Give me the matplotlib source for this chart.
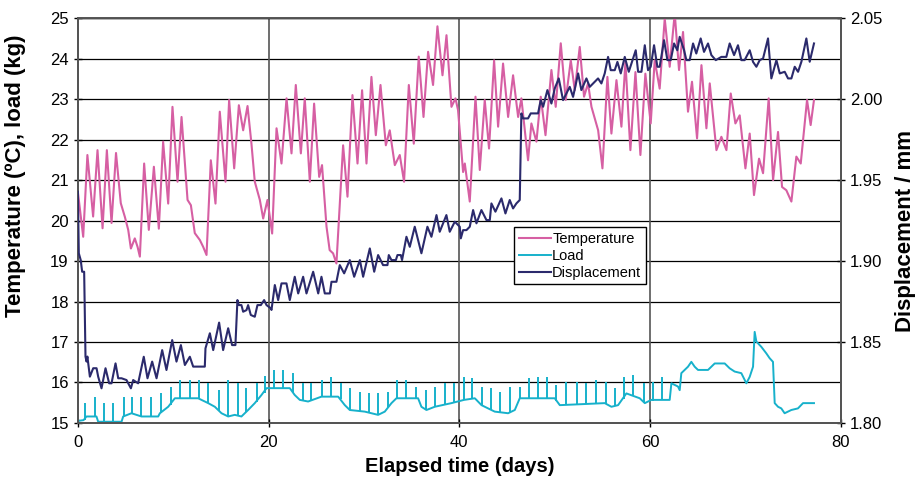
import matplotlib
matplotlib.use('Agg')
import matplotlib.pyplot as plt

plt.rcParams['font.family'] = ['Liberation Sans', 'DejaVu Sans']

# Temperature (ºC) against elapsed time (days)
temp_days = [0.0, 0.56, 1.0, 1.6, 2.06, 2.59, 3.04, 3.53, 4.0, 4.5, 4.93, 5.28, 5.56, 5.97, 6.26, 6.5,
             6.95, 7.44, 7.97, 8.49, 8.94, 9.47, 9.92, 10.45, 10.87, 11.5, 11.85, 12.26, 12.79, 13.14,
             13.49, 13.94, 14.43, 14.88, 15.48, 15.86, 16.39, 16.88, 17.33, 17.79, 18.2, 18.55, 19.08,
             19.43, 19.88, 20.37, 20.83, 21.35, 21.88, 22.4, 22.85, 23.38, 23.79, 24.32, 24.77, 25.3,
             25.6, 26.07, 26.4, 26.76, 27.11, 27.81, 28.27, 28.79, 29.32, 29.8, 30.26, 30.78, 31.24,
             31.73, 32.29, 32.7, 33.23, 33.75, 34.2, 34.7, 35.22, 35.74, 36.24, 36.72, 37.24, 37.7,
             38.23, 38.65, 39.17, 39.59, 39.86, 40.39, 40.57, 41.09, 41.69, 42.14, 42.66, 43.11, 43.64,
             44.06, 44.58, 45.11, 45.63, 46.16, 46.5, 47.2, 47.55, 48.08, 48.53, 49.03, 49.65, 50.1,
             50.63, 51.15, 51.68, 52.1, 52.62, 53.07, 53.49, 53.85, 54.55, 55.0, 55.52, 55.94, 56.47,
             56.99, 57.41, 57.93, 58.46, 58.98, 59.5, 60.06, 60.48, 61.0, 61.53, 62.05, 62.58, 63.03,
             63.45, 63.97, 64.39, 64.92, 65.38, 65.9, 66.25, 66.95, 67.47, 68.0, 68.45, 68.94, 69.39,
             69.99, 70.44, 70.89, 71.42, 71.84, 72.43, 72.89, 73.41, 73.83, 74.28, 74.81, 75.33,
             75.79, 76.45, 76.83, 77.18]
temperature = [20.71, 19.6, 21.62, 20.1, 21.74, 19.81, 21.74, 19.94, 21.67, 20.43, 20.09, 19.77, 19.31,
               19.56, 19.35, 19.11, 21.41, 19.77, 21.33, 19.8, 21.95, 20.42, 22.81, 20.96, 22.56, 20.51,
               20.38, 19.69, 19.52, 19.35, 19.15, 21.49, 20.42, 22.69, 20.96, 22.98, 21.29, 22.85, 22.23,
               22.83, 21.9, 20.96, 20.51, 20.05, 20.51, 19.68, 22.28, 21.41, 23.02, 21.66, 23.35, 21.66,
               23.02, 20.96, 22.89, 21.08, 21.37, 19.85, 19.27, 19.19, 18.94, 21.86, 20.59, 23.1, 21.41,
               23.22, 21.41, 23.55, 22.11, 23.35, 21.86, 22.23, 21.37, 21.62, 20.96, 23.35, 21.9, 24.05,
               22.56, 24.17, 23.35, 24.8, 23.59, 24.58, 22.81, 23.02, 22.73, 21.2, 21.41, 20.47, 23.06,
               21.25, 22.98, 21.78, 23.96, 22.32, 23.88, 22.56, 23.59, 22.56, 23.02, 21.49, 22.4, 21.95,
               23.06, 22.11, 23.72, 22.81, 24.38, 22.98, 23.96, 23.22, 24.29, 23.06, 23.39, 22.81, 22.23,
               21.29, 23.55, 22.15, 23.47, 22.32, 23.92, 21.74, 23.67, 21.62, 23.63, 22.4, 23.96, 23.26,
               24.99, 23.8, 25.12, 23.72, 24.66, 22.69, 23.43, 22.03, 23.84, 22.28, 23.39, 21.74, 22.07,
               21.74, 23.14, 22.4, 22.6, 21.29, 22.15, 20.63, 21.53, 21.17, 23.02, 21.0, 22.19, 20.83,
               20.75, 20.47, 21.58, 21.41, 22.98, 22.36, 22.98]

# Load (kg): slowly varying base level ...
load_days = [0.0, 0.6, 0.9, 1.95, 2.13, 2.7, 2.76, 2.82, 4.58, 4.75, 5.62, 6.67, 8.42, 8.6, 9.47, 10.17,
             12.61, 13.66, 14.36, 15.06, 15.76, 16.45, 17.15, 17.85, 18.55, 19.25, 19.78, 20.3, 22.22,
             22.74, 23.27, 24.14, 25.54, 27.29, 27.99, 28.51, 30.08, 31.48, 32.18, 32.88, 33.4, 35.67,
             36.02, 36.55, 37.42, 39.17, 40.49, 41.62, 42.32, 43.01, 43.71, 45.11, 45.81, 46.33, 50.0,
             50.53, 55.24, 55.94, 56.64, 57.51, 58.91, 59.44, 60.13, 62.05, 62.23, 62.92, 63.1, 63.27,
             63.97, 64.32, 64.67, 65.02, 66.07, 66.77, 67.82, 68.34, 68.86, 69.56, 70.09, 70.44, 70.79,
             70.96, 71.14, 71.66, 72.18, 72.53, 72.88, 73.06, 73.41, 73.75, 74.1, 74.8, 75.5, 76.03, 77.18]
load_base = [15.05, 15.07, 15.16, 15.16, 15.03, 15.03, 14.87, 15.03, 15.03, 15.16, 15.24, 15.16, 15.16,
             15.24, 15.4, 15.61, 15.61, 15.49, 15.4, 15.24, 15.16, 15.2, 15.16, 15.32, 15.49, 15.69,
             15.86, 15.86, 15.86, 15.69, 15.57, 15.53, 15.65, 15.65, 15.44, 15.32, 15.28, 15.2, 15.28,
             15.49, 15.61, 15.61, 15.4, 15.32, 15.4, 15.49, 15.57, 15.61, 15.44, 15.36, 15.28, 15.24,
             15.32, 15.61, 15.61, 15.44, 15.49, 15.4, 15.44, 15.73, 15.61, 15.49, 15.57, 15.57, 15.98,
             15.9, 15.81, 16.23, 16.39, 16.51, 16.39, 16.31, 16.31, 16.47, 16.47, 16.35, 16.27, 16.23,
             15.98, 16.14, 16.39, 17.25, 17.01, 16.88, 16.72, 16.6, 16.51, 15.49, 15.4, 15.36, 15.24,
             15.32, 15.36, 15.49, 15.49]

# ... plus the short daily load peaks
spike_days = [0.73, 1.78, 2.76, 3.7, 4.86, 5.7, 6.67, 7.72, 8.7, 9.75, 10.69, 11.74, 12.68, 13.66, 14.78,
              15.76, 16.81, 17.68, 18.73, 19.65, 20.58, 21.52, 22.57, 23.62, 24.49, 25.61, 26.52, 27.57,
              28.51, 29.56, 30.5, 31.48, 32.53, 33.51, 34.45, 35.5, 36.55, 37.49, 38.47, 39.45, 40.49,
              41.34, 42.32, 43.29, 44.24, 45.28, 46.33, 47.28, 48.25, 49.23, 50.18, 51.22, 52.38, 53.32,
              54.37, 55.42, 56.29, 57.27, 58.21, 59.37, 60.31, 61.25]
spike_base = [15.07, 15.16, 15.03, 15.03, 15.16, 15.24, 15.16, 15.16, 15.24, 15.45, 15.61, 15.61, 15.61,
              15.49, 15.3, 15.16, 15.18, 15.28, 15.52, 15.73, 15.86, 15.86, 15.75, 15.55, 15.55, 15.65,
              15.65, 15.58, 15.32, 15.3, 15.26, 15.2, 15.38, 15.61, 15.61, 15.61, 15.32, 15.4, 15.45,
              15.52, 15.57, 15.59, 15.44, 15.33, 15.26, 15.25, 15.61, 15.61, 15.61, 15.61, 15.55, 15.44,
              15.44, 15.46, 15.46, 15.47, 15.42, 15.6, 15.68, 15.5, 15.55, 15.57]
spike_top = [15.49, 15.65, 15.49, 15.49, 15.65, 15.65, 15.65, 15.65, 15.73, 15.9, 16.06, 16.06, 16.06,
             15.98, 15.81, 16.06, 15.98, 15.86, 15.98, 16.17, 16.31, 16.31, 16.23, 15.98, 15.98, 16.06,
             16.14, 15.98, 15.86, 15.77, 15.73, 15.73, 15.77, 16.06, 16.06, 15.9, 15.81, 15.9, 15.98,
             15.98, 16.14, 16.1, 15.9, 15.86, 15.77, 15.9, 15.9, 16.1, 16.14, 16.14, 15.94, 16.02, 16.02,
             15.98, 16.06, 16.02, 15.86, 16.14, 16.19, 15.98, 16.02, 16.14]

# Displacement (mm), right axis
disp_days = [0.0, 0.1, 0.3, 0.45, 0.66, 0.8, 0.91, 1.0, 1.26, 1.61, 1.96, 2.13, 2.48, 2.9, 3.28, 3.53,
             3.95, 4.23, 4.58, 5.1, 5.56, 5.8, 6.32, 6.91, 7.3, 7.79, 8.25, 8.84, 9.29, 9.89, 10.34,
             10.8, 11.22, 11.74, 12.09, 13.31, 13.38, 13.84, 14.19, 14.81, 15.23, 15.76, 16.17, 16.52,
             16.73, 16.87, 17.15, 17.33, 17.68, 17.85, 18.13, 18.55, 18.83, 19.18, 19.53, 19.78, 20.23,
             20.3, 20.65, 21.0, 21.35, 21.87, 22.22, 22.74, 23.1, 23.62, 23.97, 24.67, 25.2, 25.54,
             25.89, 26.42, 26.59, 27.11, 27.46, 27.92, 28.51, 28.97, 29.57, 29.91, 30.61, 31.07, 31.48,
             32.0, 32.46, 32.6, 32.88, 33.34, 33.51, 33.86, 33.99, 34.45, 34.8, 35.32, 36.02, 36.65,
             37.07, 37.6, 37.94, 38.64, 38.99, 39.52, 40.04, 40.15, 40.39, 40.74, 41.09, 41.44, 41.79,
             42.31, 42.84, 43.19, 43.36, 43.78, 44.41, 44.83, 45.28, 45.63, 45.98, 46.33, 46.5, 46.68,
             47.2, 47.48, 48.25, 48.53, 48.78, 49.23, 49.65, 50.0, 50.42, 50.87, 51.57, 51.92, 52.45,
             52.79, 53.32, 53.67, 54.02, 54.54, 54.89, 55.24, 55.59, 55.87, 56.29, 56.57, 56.92, 57.34,
             57.76, 58.49, 58.74, 59.09, 59.44, 59.78, 60.06, 60.41, 60.76, 61.0, 61.46, 61.81, 62.16,
             62.51, 62.85, 63.1, 63.56, 63.8, 64.15, 64.5, 64.84, 65.3, 65.65, 66.07, 66.42, 66.88,
             67.47, 67.99, 68.34, 68.8, 69.21, 69.56, 69.91, 70.44, 70.79, 71.14, 71.49, 71.84, 72.36,
             72.71, 73.24, 73.59, 74.11, 74.46, 74.81, 75.16, 75.51, 75.86, 76.38, 76.73, 77.18]
displacement = [1.9428, 1.9048, 1.9006, 1.8934, 1.8934, 1.841, 1.8379, 1.841, 1.8286, 1.8338, 1.8338,
                1.8286, 1.8214, 1.8338, 1.8245, 1.8245, 1.8368, 1.8276, 1.8276, 1.8265, 1.8214, 1.8265,
                1.8245, 1.8409, 1.8276, 1.8379, 1.8276, 1.845, 1.8327, 1.8512, 1.8379, 1.8481, 1.8358,
                1.8409, 1.8348, 1.8348, 1.8461, 1.8554, 1.845, 1.862, 1.845, 1.8585, 1.8481, 1.8481,
                1.8759, 1.8728, 1.8728, 1.8687, 1.8697, 1.8728, 1.8667, 1.8656, 1.8728, 1.8728, 1.8759,
                1.8728, 1.8708, 1.8698, 1.8852, 1.8759, 1.8862, 1.8862, 1.8759, 1.8903, 1.88, 1.8903,
                1.88, 1.8934, 1.88, 1.8903, 1.88, 1.88, 1.8872, 1.8872, 1.8975, 1.8924, 1.9006, 1.8903,
                1.9006, 1.8903, 1.9078, 1.8934, 1.9037, 1.8975, 1.8975, 1.9037, 1.9006, 1.9006, 1.9037,
                1.9037, 1.9006, 1.915, 1.9088, 1.9212, 1.9048, 1.9212, 1.915, 1.9284, 1.9181, 1.9284,
                1.9181, 1.9243, 1.9212, 1.914, 1.9191, 1.9191, 1.9212, 1.9315, 1.9233, 1.9315, 1.9253,
                1.9253, 1.9356, 1.9305, 1.9387, 1.9294, 1.9377, 1.9325, 1.9356, 1.9377, 1.9912, 1.9881,
                1.9881, 1.9912, 1.9912, 1.9994, 1.9953, 2.0056, 1.9973, 2.0066, 2.0128, 1.9994, 2.0076,
                2.0014, 2.0159, 2.0056, 2.0128, 2.0076, 2.0097, 2.0128, 2.0097, 2.0159, 2.0261, 2.0179,
                2.0179, 2.023, 2.0159, 2.0261, 2.0169, 2.0302, 2.0169, 2.0169, 2.0333, 2.0179, 2.02,
                2.0333, 2.02, 2.02, 2.0364, 2.0241, 2.0241, 2.0344, 2.0302, 2.0385, 2.0302, 2.0241,
                2.0241, 2.0344, 2.0282, 2.0375, 2.0292, 2.0344, 2.0272, 2.0241, 2.0261, 2.0261, 2.0344,
                2.0272, 2.0333, 2.0241, 2.0241, 2.0302, 2.023, 2.02, 2.0241, 2.0251, 2.0375, 2.0128,
                2.0241, 2.0159, 2.0169, 2.0128, 2.0128, 2.02, 2.0169, 2.0231, 2.0375, 2.0231, 2.0344]

x_ticks = [0, 20, 40, 60, 80]
left_ticks = list(range(15, 26))
right_ticks = [1.80, 1.85, 1.90, 1.95, 2.00, 2.05]

c_temp = '#d65fa3'
c_load = '#17b1cb'
c_disp = '#2b2a6c'

fig = plt.figure(figsize=(9.16, 4.79), dpi=100)
ax = fig.add_axes([0.085, 0.117, 0.833, 0.845])
ax2 = ax.twinx()

# grid: every degree horizontally, every 20 days vertically
for v in left_ticks:
    ax.axhline(v, color='black', lw=0.9, zorder=0)
for d in x_ticks[1:-1]:
    ax.axvline(d, color='#555555', lw=1.2, zorder=0)

l_temp, = ax.plot(temp_days, temperature, color=c_temp, lw=1.5, label='Temperature', zorder=3)
l_load, = ax.plot(load_days, load_base, color=c_load, lw=1.4, label='Load', zorder=2)
ax.vlines(spike_days, spike_base, spike_top, color=c_load, lw=1.4, zorder=2)
l_disp, = ax2.plot(disp_days, displacement, color=c_disp, lw=1.5, label='Displacement', zorder=4)

ax.set_xlim(0, 80)
ax.set_ylim(15, 25)
ax2.set_ylim(1.80, 2.05)
ax.set_xticks(x_ticks)
ax.set_yticks(left_ticks)
ax2.set_yticks(right_ticks)
ax2.set_yticklabels(['%.2f' % v for v in right_ticks])

for a in (ax, ax2):
    a.tick_params(direction='inout', length=6, width=1, labelsize=12, colors='black')
    for s in a.spines.values():
        s.set_color('#555555')
        s.set_linewidth(1.4)
ax.tick_params(axis='x', pad=6)
ax.spines['top'].set_color('black')
ax.spines['top'].set_linewidth(1.0)

ax.set_xlabel('Elapsed time (days)', fontsize=14.5, fontweight='bold')
ax.xaxis.set_label_coords(0.5, -0.085)
ax.set_ylabel('Temperature (ºC), load (kg)', fontsize=16, fontweight='bold')
ax.yaxis.set_label_coords(-0.068, 0.61)
ax2.set_ylabel('Displacement / mm', fontsize=16, fontweight='bold', rotation=90)
ax2.yaxis.set_label_coords(1.071, 0.475)

leg = ax2.legend(handles=[l_temp, l_load, l_disp], loc='upper left', bbox_to_anchor=(0.572, 0.483),
                 frameon=True, fancybox=False, edgecolor='black', framealpha=1, fontsize=10.5,
                 handlelength=2.2, handletextpad=0.1, borderpad=0.3, labelspacing=0.2, borderaxespad=0)
leg.get_frame().set_linewidth(1.0)

plt.savefig('out.png', dpi=100)
